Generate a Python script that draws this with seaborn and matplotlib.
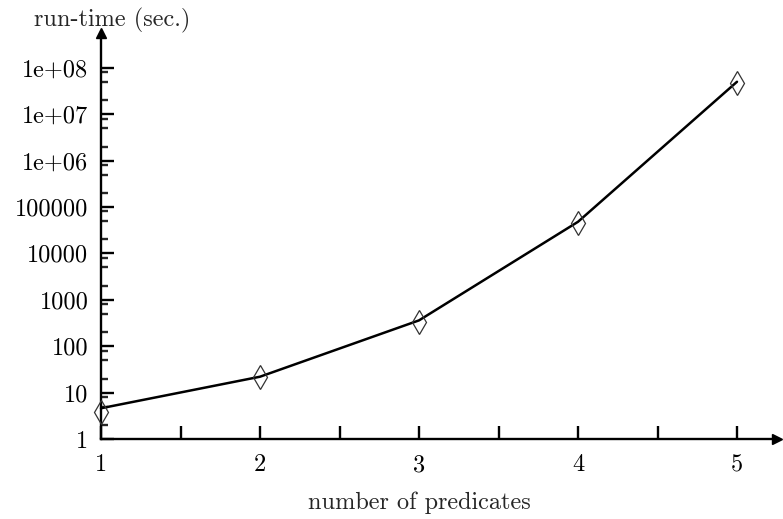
import matplotlib
matplotlib.use("Agg")
import matplotlib.pyplot as plt
import matplotlib.ticker as mticker
import seaborn as sns
import pandas as pd
import numpy as np

# data
predicates = [1, 2, 3, 4, 5]
runtime_measured = [3.9, 22, 336, 44500, 4.6e7]
runtime_curve = [4.6, 22, 360, 48000, 5.0e7]
y_tick_values = [1, 10, 100, 1000, 10000, 100000, 1e6, 1e7, 1e8]
y_tick_labels = ["1", "10", "100", "1000", "10000", "100000", "1e+06", "1e+07", "1e+08"]
x_tick_values = [1, 2, 3, 4, 5]
x_tick_labels = ["1", "2", "3", "4", "5"]

sns.set_style("ticks")
plt.rcParams["font.family"] = ["cmr10", "DejaVu Serif"]
plt.rcParams["mathtext.fontset"] = "cm"
plt.rcParams["axes.formatter.use_mathtext"] = True

W, H = 783, 519
fig = plt.figure(figsize=(W / 100, H / 100), dpi=100)
left_px, right_px, bottom_px, top_px = 101, 777, 439, 33
ax = fig.add_axes([left_px / W, (H - bottom_px) / H,
                   (right_px - left_px) / W, (bottom_px - top_px) / H])

px_per_unit = 159.0
px_per_dec = 46.4
ax.set_xlim(1, 1 + (right_px - left_px) / px_per_unit)
ax.set_yscale("log")
ax.set_ylim(1, 10 ** ((bottom_px - top_px) / px_per_dec))

df_curve = pd.DataFrame({"x": predicates, "y": runtime_curve})
df_meas = pd.DataFrame({"x": predicates, "y": runtime_measured})

sns.lineplot(data=df_curve, x="x", y="y", ax=ax, color="black", lw=1.8,
             clip_on=False, zorder=3)
ax.plot(df_meas["x"], df_meas["y"], linestyle="none", marker="d", ms=12.2,
        mfc="none", mec="#333333", mew=0.9, clip_on=False, zorder=4)

for s in ["top", "right"]:
    ax.spines[s].set_visible(False)
for s in ["left", "bottom"]:
    ax.spines[s].set_linewidth(1.7)
    ax.spines[s].set_color("black")

# arrow heads
ax.plot(1, 0, marker=">", color="black", ms=7, transform=ax.transAxes, clip_on=False)
ax.plot(0, 1, marker="^", color="black", ms=7, transform=ax.transAxes, clip_on=False)

ax.xaxis.set_major_locator(mticker.FixedLocator(x_tick_values))
ax.xaxis.set_major_formatter(mticker.FixedFormatter(x_tick_labels))
ax.xaxis.set_minor_locator(mticker.FixedLocator([1.5, 2.5, 3.5, 4.5]))
ax.yaxis.set_major_locator(mticker.FixedLocator(y_tick_values))
ax.yaxis.set_major_formatter(mticker.FixedFormatter(y_tick_labels))
minor_y = [m * 10 ** k for k in range(0, 8) for m in (2, 5, 8)]
ax.yaxis.set_minor_locator(mticker.FixedLocator(minor_y))
ax.yaxis.set_minor_formatter(mticker.NullFormatter())

FS = 17.5
ax.tick_params(axis="x", which="both", direction="in", length=9.4, width=1.7,
               labelsize=FS, pad=11, colors="black")
ax.tick_params(axis="y", which="major", direction="in", length=9.4, width=1.7,
               labelsize=FS, pad=9, colors="black")
ax.tick_params(axis="y", which="minor", direction="in", length=5, width=1.7)

ax.set_xlabel("number of predicates", fontsize=FS)
ax.xaxis.set_label_coords((419 - left_px) / (right_px - left_px),
                          -(503 - bottom_px) / (bottom_px - top_px))
ax.xaxis.label.set_verticalalignment("center")
ax.set_ylabel("")
fig.text(112 / W, 1 - 20 / H, "run-time (sec.)", fontsize=FS, ha="center", va="center")

ax.grid(False)
fig.savefig("out.png", dpi=100)
